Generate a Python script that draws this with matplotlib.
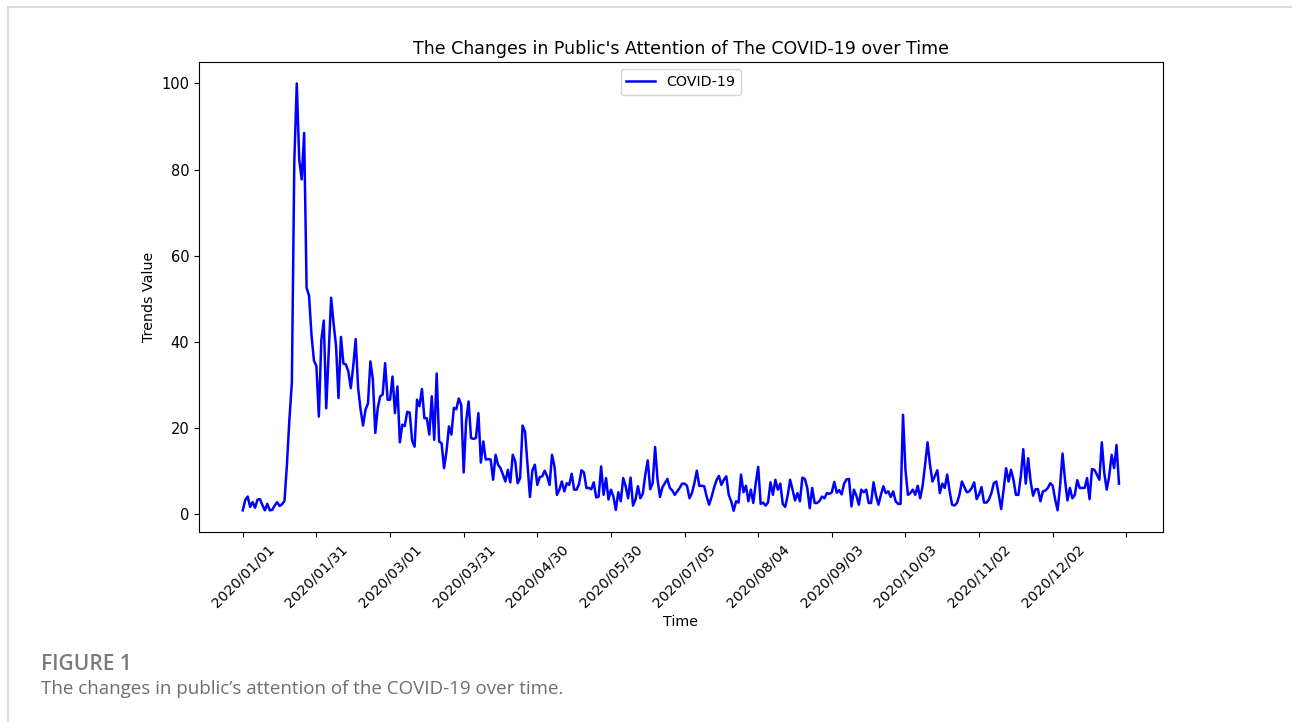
import matplotlib
matplotlib.use("Agg")
import matplotlib.pyplot as plt
from matplotlib.lines import Line2D
import numpy as np

plt.rcParams["font.family"] = ["DejaVu Sans"]

# Daily search-trend index for "COVID-19" during 2020 (0-100 scale)
trend_values = [
    0.8, 3.2, 4.0, 1.6, 2.7, 1.4, 3.3, 3.4, 2.0, 0.8,
    2.3, 0.8, 0.9, 1.9, 2.7, 1.8, 2.2, 3.0, 11.5, 22.0,
    30.5, 82.0, 100.0, 82.3, 77.7, 88.5, 52.5, 50.7, 41.5, 35.6,
    34.3, 22.6, 40.3, 44.9, 24.5, 37.5, 50.2, 44.2, 39.0, 26.9,
    41.1, 34.9, 34.7, 33.1, 29.2, 34.3, 40.6, 29.2, 24.2, 20.5,
    24.2, 25.6, 35.4, 31.2, 18.8, 24.6, 27.3, 27.7, 35.0, 26.5,
    26.5, 31.9, 23.4, 29.6, 16.6, 20.7, 20.4, 23.7, 23.5, 17.0,
    15.6, 26.5, 25.0, 29.0, 22.2, 22.2, 18.4, 27.3, 17.2, 32.6,
    16.8, 16.4, 10.6, 14.5, 20.3, 18.4, 24.6, 24.3, 26.8, 25.3,
    9.6, 21.5, 26.1, 17.6, 17.4, 17.6, 23.4, 11.9, 16.8, 12.6,
    12.7, 12.6, 7.9, 13.7, 11.4, 10.6, 9.1, 7.5, 10.2, 7.3,
    13.7, 12.2, 7.1, 8.3, 20.5, 19.1, 11.4, 3.9, 10.1, 11.4,
    6.7, 8.5, 8.7, 10.0, 8.7, 6.7, 13.7, 11.0, 4.4, 5.6,
    7.5, 5.2, 7.1, 6.7, 9.3, 5.6, 5.6, 6.9, 10.1, 9.6,
    6.0, 6.0, 5.7, 7.3, 3.8, 4.0, 11.0, 4.4, 8.3, 3.3,
    5.6, 4.0, 0.9, 5.0, 2.9, 8.3, 6.4, 3.6, 8.4, 1.9,
    3.3, 6.4, 3.6, 4.7, 9.1, 12.4, 5.7, 7.1, 15.5, 7.9,
    3.9, 6.2, 7.1, 8.1, 6.0, 5.4, 4.4, 5.2, 6.0, 7.0,
    7.0, 6.5, 3.6, 4.8, 7.1, 10.0, 6.5, 6.5, 6.4, 4.0,
    2.1, 3.9, 6.0, 7.8, 8.8, 6.7, 7.9, 8.7, 4.4, 2.9,
    0.7, 2.9, 2.6, 9.1, 5.0, 6.5, 2.9, 5.6, 2.5, 7.1,
    10.9, 2.3, 2.6, 1.9, 2.6, 7.3, 4.4, 7.9, 5.6, 7.0,
    2.3, 1.6, 4.2, 7.9, 5.6, 3.1, 4.8, 2.9, 8.4, 8.1,
    6.0, 1.3, 6.0, 2.5, 2.5, 3.0, 4.0, 3.6, 4.8, 4.6,
    5.0, 7.4, 4.9, 5.5, 4.5, 7.0, 8.0, 8.1, 1.7, 5.6,
    4.2, 2.1, 5.6, 5.0, 5.6, 2.5, 2.5, 7.3, 4.2, 2.1,
    4.4, 6.4, 4.8, 5.2, 3.9, 5.2, 2.9, 2.3, 2.3, 23.0,
    10.2, 4.4, 4.8, 5.6, 4.4, 6.5, 3.6, 6.5, 11.4, 16.6,
    11.4, 7.5, 8.8, 10.1, 4.8, 7.0, 6.0, 9.1, 5.2, 2.1,
    1.9, 2.5, 4.4, 7.5, 6.2, 5.0, 5.2, 6.0, 7.3, 3.4,
    4.5, 6.2, 2.6, 2.6, 3.3, 4.8, 7.1, 7.5, 4.4, 1.1,
    5.6, 10.6, 7.5, 10.2, 7.9, 4.4, 4.4, 8.7, 15.0, 7.0,
    12.9, 7.5, 4.2, 5.7, 5.7, 2.9, 5.2, 5.4, 6.0, 7.1,
    6.5, 3.3, 0.8, 6.5, 14.0, 7.9, 3.1, 6.0, 3.6, 4.4,
    7.8, 6.0, 6.0, 6.0, 8.3, 3.4, 10.4, 10.2, 9.1, 7.9,
    16.6, 9.5, 5.6, 8.7, 13.7, 10.6, 16.0, 7.0,
]

# Date labels shown every 30 records
date_labels = [
    "2020/01/01", "2020/01/31", "2020/03/01", "2020/03/31",
    "2020/04/30", "2020/05/30", "2020/07/05", "2020/08/04",
    "2020/09/03", "2020/10/03", "2020/11/02", "2020/12/02",
]
label_step = 30

series_name = "COVID-19"
chart_title = "The Changes in Public's Attention of The COVID-19 over Time"
caption_head = "FIGURE 1"
caption_text = "The changes in public\u2019s attention of the COVID-19 over time."

fig = plt.figure(figsize=(12.92, 7.22), dpi=100)
ax = fig.add_axes([0.154, 0.263, 0.746, 0.651])

x = np.arange(len(trend_values))
ax.plot(x, trend_values, color="#0000ff", linewidth=1.8, label=series_name)

tick_pos = np.arange(0, len(date_labels) * label_step + 1, label_step)
ax.set_xticks(tick_pos)
ax.set_xticklabels(date_labels + [""] * (len(tick_pos) - len(date_labels)),
                   rotation=45, fontsize=10.3)
ax.tick_params(axis="y", labelsize=10.5)
ax.set_yticks([0, 20, 40, 60, 80, 100])

ax.set_title(chart_title, fontsize=12.5)
ax.set_xlabel("Time", fontsize=10.3)
ax.set_ylabel("Trends Value", fontsize=10.3)
ax.legend(loc="upper center", fontsize=10.3)

# Page decoration: thin border and caption
fig.add_artist(Line2D([8 / 1292, 1.0], [1 - 7 / 722, 1 - 7 / 722],
                      color="#d4d4d4", linewidth=1.2))
fig.add_artist(Line2D([8 / 1292, 8 / 1292], [0.0, 1 - 7 / 722],
                      color="#d4d4d4", linewidth=1.2))
fig.text(41 / 1292, 1 - 665 / 722, caption_head, fontsize=15,
         color="#7a7a7a", family="Open Sans", fontweight="semibold",
         va="center", ha="left")
fig.text(41 / 1292, 1 - 689 / 722, caption_text, fontsize=13.5,
         color="#6e6e6e", family="Open Sans", va="center", ha="left")

fig.savefig("out.png", dpi=100)
